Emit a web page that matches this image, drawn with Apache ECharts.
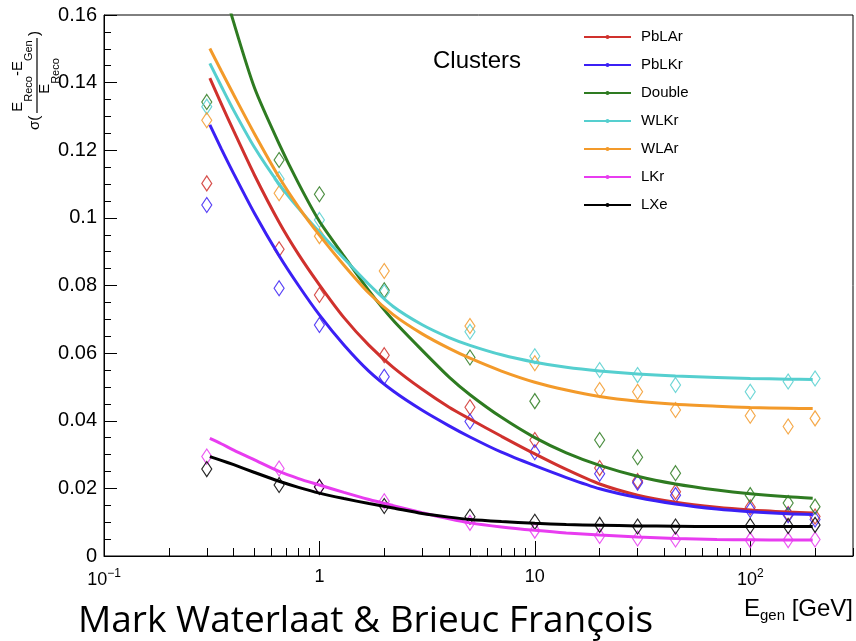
<!DOCTYPE html>
<html>
<head>
<meta charset="utf-8">
<script src="https://cdn.jsdelivr.net/npm/echarts@6/dist/echarts.min.js"></script>
<style>
  html, body { margin: 0; padding: 0; background: #fff; }
  #chart { width: 856px; height: 641px; }
</style>
</head>
<body>
<div id="chart"></div>
<script>
// Calorimeter configurations
const names = ['PbLAr', 'PbLKr', 'Double', 'WLKr', 'WLAr', 'LKr', 'LXe'];
const colors = ['#d0312d', '#3b20f5', '#2e7b21', '#55cfcf', '#f39a2a', '#e83cf0', '#000000'];

// Generated energies of the measured points [GeV]
const xPoints = [0.3, 0.65, 1, 2, 5, 10, 20, 30, 45, 100, 150, 200];

// Measured resolution per configuration
const ptsPbLAr  = [0.1102, 0.0907, 0.0772, 0.0594, 0.0440, 0.0343, 0.0260, 0.0222, 0.0190, 0.0144, 0.0124, 0.0117];
const ptsPbLKr  = [0.1038, 0.0792, 0.0683, 0.0530, 0.0398, 0.0307, 0.0243, 0.0217, 0.0180, 0.0136, 0.0121, 0.0108];
const ptsDouble = [0.1343, 0.1171, 0.1070, 0.0786, 0.0587, 0.0458, 0.0343, 0.0292, 0.0245, 0.0180, 0.0157, 0.0146];
const ptsWLKr   = [0.1329, 0.1115, 0.0994, 0.0780, 0.0663, 0.0591, 0.0550, 0.0535, 0.0506, 0.0486, 0.0516, 0.0525];
const ptsWLAr   = [0.1289, 0.1073, 0.0946, 0.0843, 0.0680, 0.0570, 0.0491, 0.0486, 0.0432, 0.0415, 0.0383, 0.0407];
const ptsLKr    = [0.0294, 0.0259, 0.0205, 0.0162, 0.0098, 0.0075, 0.0059, 0.0052, 0.0049, 0.0047, 0.0047, 0.0049];
const ptsLXe    = [0.0257, 0.0210, 0.0204, 0.0148, 0.0116, 0.0101, 0.0092, 0.0087, 0.0087, 0.0089, 0.0089, 0.0092];

// Fitted resolution curves, sampled at these energies [GeV]
const xFit = [0.31, 0.35, 0.4, 0.5, 0.65, 0.8, 1, 1.3, 1.7, 2.2, 3, 4, 5, 7, 10, 14, 20, 30, 45, 70, 100, 150, 195];
const fitPbLAr  = [0.1413, 0.1338, 0.1257, 0.1126, 0.0987, 0.0892, 0.0802, 0.0705, 0.0623, 0.0558, 0.0493, 0.0440, 0.0405, 0.0354, 0.0302, 0.0256, 0.0213, 0.0180, 0.0159, 0.0144, 0.0136, 0.0130, 0.0127];
const fitPbLKr  = [0.1275, 0.1205, 0.1131, 0.1013, 0.0888, 0.0800, 0.0713, 0.0624, 0.0546, 0.0488, 0.0431, 0.0385, 0.0352, 0.0307, 0.0267, 0.0232, 0.0199, 0.0173, 0.0154, 0.0139, 0.0131, 0.0125, 0.0123];
const fitDouble = [0.1848, 0.1711, 0.1578, 0.1384, 0.1219, 0.1102, 0.0990, 0.0887, 0.0784, 0.0697, 0.0608, 0.0529, 0.0477, 0.0410, 0.0350, 0.0305, 0.0268, 0.0236, 0.0213, 0.0195, 0.0184, 0.0175, 0.0171];
const fitWLKr   = [0.1457, 0.1390, 0.1318, 0.1208, 0.1100, 0.1028, 0.0958, 0.0880, 0.0803, 0.0738, 0.0684, 0.0646, 0.0623, 0.0595, 0.0573, 0.0558, 0.0547, 0.0538, 0.0532, 0.0528, 0.0525, 0.0523, 0.0522];
const fitWLAr   = [0.1501, 0.1435, 0.1364, 0.1248, 0.1120, 0.1032, 0.0949, 0.0860, 0.0777, 0.0714, 0.0657, 0.0614, 0.0585, 0.0547, 0.0514, 0.0491, 0.0472, 0.0458, 0.0449, 0.0443, 0.0439, 0.0437, 0.0436];
const fitLKr    = [0.0348, 0.0332, 0.0313, 0.0284, 0.0250, 0.0229, 0.0210, 0.0188, 0.0167, 0.0149, 0.0128, 0.0110, 0.0098, 0.0086, 0.0076, 0.0068, 0.0062, 0.0056, 0.0052, 0.0049, 0.0048, 0.0047, 0.0047];
const fitLXe    = [0.0294, 0.0283, 0.0270, 0.0247, 0.0221, 0.0203, 0.0186, 0.0170, 0.0155, 0.0142, 0.0126, 0.0115, 0.0108, 0.0102, 0.0097, 0.0093, 0.0091, 0.0089, 0.0088, 0.0087, 0.0087, 0.0087, 0.0087];

// Axis ticks
const xMajorTicks = [0.1, 1, 10, 100];
const xMinorTicks = [0.2, 0.3, 0.4, 0.5, 0.6, 0.7, 0.8, 0.9, 2, 3, 4, 5, 6, 7, 8, 9, 20, 30, 40, 50, 60, 70, 80, 90, 200, 300];

const allPts = [ptsPbLAr, ptsPbLKr, ptsDouble, ptsWLKr, ptsWLAr, ptsLKr, ptsLXe];
const allFits = [fitPbLAr, fitPbLKr, fitDouble, fitWLKr, fitWLAr, fitLKr, fitLXe];

const FONT = '"Liberation Sans", Arial, Helvetica, sans-serif';

const series = [];
names.forEach((n, i) => {
  series.push({
    type: 'scatter',
    name: n + ' points',
    data: xPoints.map((x, j) => [x, allPts[i][j]]),
    symbol: 'diamond',
    symbolSize: [10, 15],
    itemStyle: { color: 'rgba(0,0,0,0)', borderColor: colors[i], borderWidth: 1.2, opacity: 0.85 },
    z: 2,
    silent: true
  });
});
names.forEach((n, i) => {
  series.push({
    type: 'line',
    name: n,
    data: xFit.map((x, j) => [x, allFits[i][j]]),
    smooth: 0.25,
    showSymbol: false,
    symbol: 'circle',
    clip: true,
    lineStyle: { width: 3, color: colors[i] },
    itemStyle: { color: colors[i] },
    z: 3,
    silent: true
  });
});

const chart = echarts.init(document.getElementById('chart'), null, { renderer: 'canvas' });
chart.setOption({
  animation: false,
  backgroundColor: '#ffffff',
  grid: { left: 104, right: 3, top: 15, bottom: 85, show: true, borderColor: '#000', borderWidth: 1 },
  xAxis: [
    {
      type: 'log', logBase: 10, min: 0.1, max: 300,
      axisLine: { show: true, lineStyle: { color: '#000', width: 1 } },
      axisTick: { show: true, inside: true, length: 15, customValues: xMajorTicks, lineStyle: { color: '#000', width: 1 } },
      axisLabel: {
        customValues: xMajorTicks,
        margin: 12,
        color: '#000',
        formatter: v => {
          const p = Math.round(Math.log10(v));
          if (p === 0) return '{b|1}';
          if (p === 1) return '{b|10}';
          if (p === -1) return '{b|10}{s|\u22121}';
          return '{b|10}{s|' + p + '}';
        },
        rich: {
          b: { fontSize: 18, fontFamily: FONT, color: '#000' },
          s: { fontSize: 12, fontFamily: FONT, color: '#000', padding: [0, 0, 13, 0] }
        }
      },
      splitLine: { show: false }
    },
    {
      type: 'log', logBase: 10, min: 0.1, max: 300, gridIndex: 0, position: 'bottom',
      axisLine: { show: false },
      axisTick: { show: true, inside: true, length: 8, customValues: xMinorTicks, lineStyle: { color: '#000', width: 1 } },
      axisLabel: { show: false },
      splitLine: { show: false }
    }
  ],
  yAxis: {
    type: 'value', min: 0, max: 0.16, interval: 0.02,
    axisLine: { show: true, lineStyle: { color: '#000', width: 1 } },
    axisTick: { show: true, inside: true, length: 13, lineStyle: { color: '#000', width: 1 } },
    minorTick: { show: true, splitNumber: 4, length: 7, lineStyle: { color: '#000', width: 1 } },
    axisLabel: { fontSize: 20, fontFamily: FONT, color: '#000', margin: 7 },
    splitLine: { show: false },
    minorSplitLine: { show: false }
  },
  legend: {
    data: names,
    orient: 'vertical',
    left: 583, top: 29.5, padding: 0,
    itemWidth: 47, itemHeight: 5, itemGap: 13,
    selectedMode: false,
    textStyle: { fontSize: 15, lineHeight: 15, fontFamily: FONT, color: '#000', padding: [0, 0, 0, 5] }
  },
  graphic: [
    {
      type: 'text', left: 433, top: 49,
      style: { text: 'Clusters', font: '24px ' + FONT, fill: '#000' }
    },
    {
      type: 'text', right: 3, top: 597,
      style: {
        text: '{e|E}{s|gen}{e| [GeV]}',
        rich: {
          e: { fontSize: 24, fontFamily: FONT, fill: '#000' },
          s: { fontSize: 15, fontFamily: FONT, fill: '#000', padding: [14, 0, 0, 0] }
        }
      }
    },
    {
      type: 'text', left: 78, top: 603,
      style: { text: 'Mark Waterlaat & Brieuc Fran\u00e7ois', font: '37px "Open Sans", Lato, sans-serif', fill: '#000' }
    },
    {
      type: 'group', x: 37, y: 130, rotation: Math.PI / 2,
      children: [
        { type: 'text', x: 0, y: -2, style: { text: '\u03c3(', font: '15px ' + FONT, fill: '#000', align: 'left', verticalAlign: 'middle' } },
        { type: 'line', shape: { x1: 17, y1: 0, x2: 92, y2: 0 }, style: { stroke: '#000', lineWidth: 1.2 } },
        {
          type: 'text', x: 54, y: -19,
          style: {
            text: '{e|E}{s|Reco}{e|-E}{s|Gen}', align: 'center', verticalAlign: 'middle',
            rich: {
              e: { fontSize: 15, fontFamily: FONT, fill: '#000' },
              s: { fontSize: 11, fontFamily: FONT, fill: '#000', padding: [21, 0, 0, 0] }
            }
          }
        },
        {
          type: 'text', x: 54, y: 8,
          style: {
            text: '{e|E}{s|Reco}', align: 'center', verticalAlign: 'middle',
            rich: {
              e: { fontSize: 15, fontFamily: FONT, fill: '#000' },
              s: { fontSize: 11, fontFamily: FONT, fill: '#000', padding: [21, 0, 0, 0] }
            }
          }
        },
        { type: 'text', x: 94, y: -2, style: { text: ')', font: '15px ' + FONT, fill: '#000', align: 'left', verticalAlign: 'middle' } }
      ]
    }
  ],
  series: series
});
</script>
</body>
</html>
